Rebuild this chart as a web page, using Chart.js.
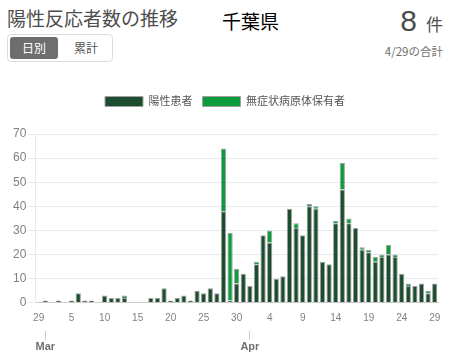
<!DOCTYPE html>
<html lang="ja">
<head>
<meta charset="utf-8">
<title>陽性反応者数の推移</title>
<script src="https://cdn.jsdelivr.net/npm/chart.js@4.4.1/dist/chart.umd.min.js"></script>
<style>
  body{margin:0;width:449px;height:352px;background:#fff;position:relative;overflow:hidden;
       font-family:'Noto Sans CJK JP','Noto Sans',sans-serif;}
  .title{position:absolute;left:7px;top:8px;font-size:19px;line-height:1;color:#4d4d4d;}
  .pref{position:absolute;left:222px;top:11px;font-size:19px;line-height:1;color:#000;}
  .total{position:absolute;right:6px;top:6px;color:#4d4d4d;display:flex;align-items:baseline;}
  .total .num{font-family:'Liberation Sans',sans-serif;font-size:30px;line-height:1;}
  .total .unit{font-size:17px;line-height:1;margin-left:9px;}
  .date{position:absolute;right:6px;top:46px;font-size:11.5px;line-height:1;color:#707070;}
  .toggle{position:absolute;left:7px;top:34px;width:104px;height:26px;border:1px solid #ddd;border-radius:4px;}
  .toggle span{position:absolute;top:2px;height:22px;line-height:22px;font-size:12px;text-align:center;}
  .toggle .on{left:2px;width:48px;background:#6e6e6e;color:#fff;border-radius:3px;}
  .toggle .off{left:52px;width:52px;color:#555;}
  .wrap{position:absolute;left:0;top:86px;width:449px;height:270px;}
</style>
</head>
<body>
<div class="title">陽性反応者数の推移</div>
<div class="pref">千葉県</div>
<div class="total"><span class="num">8</span><span class="unit">件</span></div>
<div class="date">4/29の合計</div>
<div class="toggle"><span class="on">日別</span><span class="off">累計</span></div>
<div class="wrap"><canvas id="chart" width="449" height="270"></canvas></div>
<script>
// --- DATA ---
const dates = [
  '2/29',
  '3/1','3/2','3/3','3/4','3/5','3/6','3/7','3/8','3/9','3/10',
  '3/11','3/12','3/13','3/14','3/15','3/16','3/17','3/18','3/19','3/20',
  '3/21','3/22','3/23','3/24','3/25','3/26','3/27','3/28','3/29','3/30','3/31',
  '4/1','4/2','4/3','4/4','4/5','4/6','4/7','4/8','4/9','4/10',
  '4/11','4/12','4/13','4/14','4/15','4/16','4/17','4/18','4/19','4/20',
  '4/21','4/22','4/23','4/24','4/25','4/26','4/27','4/28','4/29'
];
const patients = [
  0,
  1,0,1,0,1,4,1,1,0,3,
  2,2,2,0,0,0,2,2,6,1,
  2,3,1,5,4,6,4,38,1,8,12,
  7,16,28,25,10,11,39,31,28,40,
  39,17,16,33,47,33,31,22,21,17,
  19,20,19,12,7,7,8,4,8
];
const carriers = [
  0,
  0,0,0,0,0,0,0,0,0,0,
  0,0,1,0,0,0,0,0,0,0,
  0,0,0,0,0,0,0,26,28,6,0,
  0,1,0,5,0,0,0,2,0,1,
  1,0,0,1,11,2,0,1,1,2,
  1,4,1,0,1,0,0,1,0
];
const yTicks = [0, 10, 20, 30, 40, 50, 60, 70];
const monthNames = {'3': 'Mar', '4': 'Apr'};

Chart.defaults.font.family = "'Liberation Sans', 'Noto Sans CJK JP', sans-serif";
Chart.defaults.animation = false;

// push the plot down a bit below the legend
const legendGap = {
  id: 'legendGap',
  beforeInit(chart){
    const fit = chart.legend.fit;
    chart.legend.fit = function(){
      fit.bind(chart.legend)();
      this.height += 17;
    };
  }
};

new Chart(document.getElementById('chart'), {
  type: 'bar',
  data: {
    labels: dates,
    datasets: [
      {label: '陽性患者', data: patients, backgroundColor: '#1b4d2e', borderColor: '#a0a0a0', borderWidth: 1,
       barPercentage: 1, categoryPercentage: 0.8},
      {label: '無症状病原体保有者', data: carriers, backgroundColor: '#0c9c3e', borderColor: '#a0a0a0', borderWidth: 1,
       barPercentage: 1, categoryPercentage: 0.8}
    ]
  },
  options: {
    responsive: false,
    layout: {padding: {left: 12, right: 11, bottom: 1}},
    plugins: {
      legend: {
        labels: {boxWidth: 38, boxHeight: 10, padding: 10, color: '#555', font: {size: 11}}
      },
      tooltip: {enabled: false}
    },
    scales: {
      x: {
        stacked: true,
        grid: {display: false},
        border: {display: true, color: '#cccccc'},
        ticks: {
          autoSkip: false, maxRotation: 0, padding: 1, color: '#808080', font: {size: 10},
          callback(v, i){ return i % 5 === 0 ? dates[i].split('/')[1] : null; }
        },
        afterFit(scale){ scale.height += 6; }
      },
      x2: {
        type: 'category',
        labels: dates,
        position: 'bottom',
        offset: true,
        grid: {offset: false, drawOnChartArea: false, tickLength: 9, color: '#cccccc'},
        border: {display: false},
        ticks: {
          autoSkip: false, maxRotation: 0, padding: 1, color: '#707070', font: {size: 11, weight: 'bold'},
          callback(v, i){
            const [m, d] = dates[i].split('/');
            return d === '1' ? monthNames[m] : null;
          }
        }
      },
      y: {
        stacked: true,
        min: 0, max: 70,
        afterBuildTicks(scale){ scale.ticks = yTicks.map(v => ({value: v})); },
        grid: {color: '#e4ebf0'},
        border: {color: '#e4ebf0'},
        ticks: {padding: 1, color: '#808080', font: {size: 12}}
      }
    }
  },
  plugins: [legendGap]
});
</script>
</body>
</html>
